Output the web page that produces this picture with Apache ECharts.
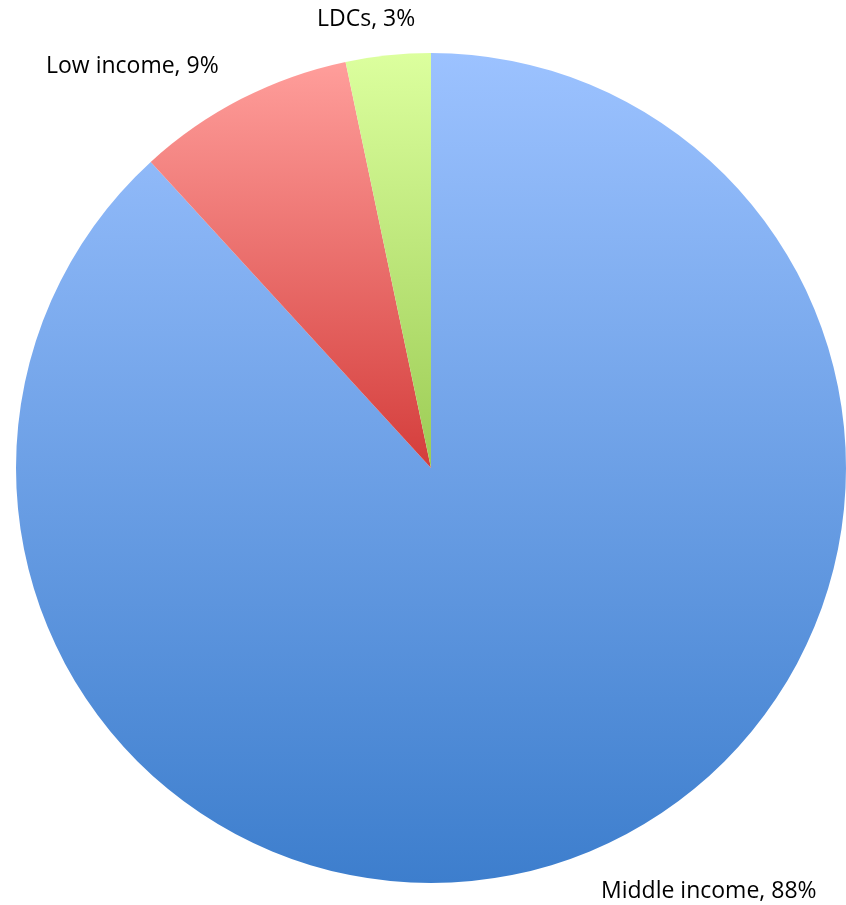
<!DOCTYPE html>
<html><head><meta charset="utf-8">
<script src="https://cdn.jsdelivr.net/npm/echarts@6/dist/echarts.min.js"></script>
<style>html,body{margin:0;padding:0;background:#fff}#c{width:846px;height:905px}</style>
</head><body><div id="c"></div>
<script>
const categories = ['Middle income', 'Low income', 'LDCs'];
const values = [88.2, 8.5, 3.3];
const labelsShown = ['88%', '9%', '3%'];

const grads = [
  ['#9cc2ff', '#3d7ecd'],
  ['#ff9e9b', '#d43d3b'],
  ['#dcff9e', '#9ccc55']
];
const labelPos = [
  {x: 601, y: 891, align: 'left'},
  {x: 46, y: 66, align: 'left'},
  {x: 317, y: 19, align: 'left'}
];

const chart = echarts.init(document.getElementById('c'));
chart.setOption({
  animation: false,
  series: [{
    type: 'pie',
    center: [431, 468],
    radius: 415,
    startAngle: 90,
    clockwise: true,
    data: categories.map((n, i) => ({
      name: n, value: values[i],
      itemStyle: {
        color: {type: 'linear', x: 0, y: 0, x2: 0, y2: 1,
          colorStops: [{offset: 0, color: grads[i][0]}, {offset: 1, color: grads[i][1]}]}
      }
    })),
    label: {
      show: true,
      formatter: p => p.name + ', ' + labelsShown[p.dataIndex],
      fontFamily: 'Open Sans',
      fontSize: 23,
      color: '#000',
      overflow: 'none'
    },
    labelLine: {show: false},
    labelLayout: p => Object.assign({verticalAlign: 'middle'}, labelPos[p.dataIndex])
  }]
});
</script></body></html>
